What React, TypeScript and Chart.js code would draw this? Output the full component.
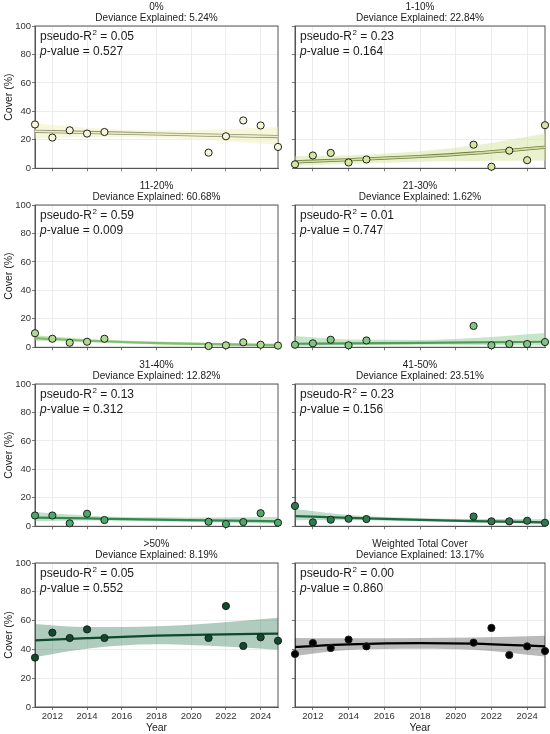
import { useEffect, useRef } from 'react'
import { Chart, registerables } from 'chart.js'

Chart.register(...registerables)

const FONT = '"Liberation Sans", Arial, Helvetica, sans-serif'

// survey years and axis ticks
const years = [2011, 2012, 2013, 2014, 2015, 2021, 2022, 2023, 2024, 2025]
const fitYears = [2011, 2014, 2018, 2021, 2025]
const xTicks = [2012, 2014, 2016, 2018, 2020, 2022, 2024]
const yTicks = [0, 20, 40, 60, 80, 100]

// panel labels and stats
const classes = ['0%', '1-10%', '11-20%', '21-30%', '31-40%', '41-50%', '>50%', 'Weighted Total Cover']
const deviance = ['5.24', '22.84', '60.68', '1.62', '12.82', '23.51', '8.19', '13.17']
const pseudoR2 = ['0.05', '0.23', '0.59', '0.01', '0.13', '0.23', '0.05', '0.00']
const pValues = ['0.527', '0.164', '0.009', '0.747', '0.312', '0.156', '0.552', '0.860']

// observed cover (%) per year
const cover0 = [30.8, 21.6, 26.7, 24.4, 25.5, 11, 22.5, 33.6, 30.1, 15]
const cover1to10 = [2.8, 9, 10.8, 4.1, 6.2, 16.6, 1.1, 12.4, 5.7, 30.3]
const cover11to20 = [9.9, 6, 3.2, 3.9, 6, 0.9, 1.4, 3.5, 1.8, 1.2]
const cover21to30 = [1.8, 2.8, 5.3, 1.4, 4.8, 15, 1.4, 2.3, 2.3, 3.7]
const cover31to40 = [7.6, 7.6, 2.1, 8.8, 4.4, 3.2, 1.6, 3, 9.2, 2.5]
const cover41to50 = [14.3, 2.8, 4.6, 5.3, 5.1, 6.9, 3.5, 3.5, 3.9, 2.5]
const cover50plus = [34.3, 51.6, 47.9, 53.9, 47.9, 47.9, 70.1, 42.4, 48.4, 46]
const coverTotal = [36.8, 44.4, 41, 46.8, 42.1, 44.7, 54.9, 36.1, 42.1, 38.9]

// fitted trend and confidence band, read at fitYears
const fit0 = [26, 25.2, 24.1, 23.3, 22.3]
const lo0 = [21, 22, 21.5, 19.8, 16.5]
const hi0 = [31.5, 28.5, 26.5, 27, 29]
const fit1to10 = [4.5, 6, 8.3, 10.6, 14.7]
const lo1to10 = [1.6, 3.2, 4.6, 5.2, 5.5]
const hi1to10 = [8.5, 9.2, 12, 16, 24.5]
const fit11to20 = [6.5, 4.6, 3, 2.2, 1.4]
const lo11to20 = [4.8, 3.6, 2.2, 1.4, 0.6]
const hi11to20 = [8.4, 5.8, 4, 3.2, 2.6]
const fit21to30 = [2.5, 2.8, 3.1, 3.4, 3.9]
const lo21to30 = [0.8, 1.4, 1.8, 1.6, 1.2]
const hi21to30 = [8, 5.5, 5.2, 6.5, 10]
const fit31to40 = [6.1, 5.5, 4.7, 4.2, 3.5]
const lo31to40 = [3.5, 4, 3.5, 2.8, 1.8]
const hi31to40 = [10, 7.5, 6.3, 6.2, 6.5]
const fit41to50 = [7.2, 5.9, 4.5, 3.7, 2.8]
const lo41to50 = [4.2, 4.3, 3.5, 2.6, 1.5]
const hi41to50 = [12.2, 8, 5.8, 5.1, 5]
const fit50plus = [46.3, 47.8, 49.5, 50.3, 51]
const lo50plus = [34.7, 40.5, 43.5, 42.5, 39.8]
const hi50plus = [57.7, 55.5, 56, 58, 62]
const fitTotal = [41.7, 43.5, 44.4, 44, 42.1]
const loTotal = [35.4, 39.5, 40.5, 39.8, 35]
const hiTotal = [48, 47.8, 48, 48.3, 49.5]

const observed = [cover0, cover1to10, cover11to20, cover21to30, cover31to40, cover41to50, cover50plus, coverTotal]
const fits = [fit0, fit1to10, fit11to20, fit21to30, fit31to40, fit41to50, fit50plus, fitTotal]
const lows = [lo0, lo1to10, lo11to20, lo21to30, lo31to40, lo41to50, lo50plus, loTotal]
const highs = [hi0, hi1to10, hi11to20, hi21to30, hi31to40, hi41to50, hi50plus, hiTotal]

// styles
const pointColors = ['#f6f6da', '#d6e6a2', '#b0da92', '#80c683', '#4ca96c', '#2a7c4e', '#0e4a2c', '#000000']
const lineColors = ['#eeeec6', '#cfe09a', '#7dbf68', '#4f9f5a', '#2f8a52', '#1d6a3e', '#0e4a2c', '#000000']
const outlineColors = ['#8e9272', '#6f7c46', '', '', '', '', '', '']
const bandColors = [
  'rgba(240,240,190,0.55)',
  'rgba(212,228,160,0.5)',
  'rgba(140,200,110,0.5)',
  'rgba(130,200,130,0.45)',
  'rgba(95,180,115,0.4)',
  'rgba(70,155,100,0.35)',
  'rgba(30,110,70,0.35)',
  'rgba(0,0,0,0.27)',
]

const pts = (xs: number[], ys: number[]) => xs.map((x, i) => ({ x, y: ys[i] }))

const decor = {
  id: 'decor',
  beforeDatasetsDraw(chart: any) {
    const { ctx, chartArea: a } = chart
    ctx.save()
    ctx.strokeStyle = '#555'
    ctx.lineWidth = 1
    ctx.strokeRect(a.left, a.top, a.right - a.left, a.bottom - a.top)
    ctx.restore()
  },
  afterDraw(chart: any, _args: any, opts: any) {
    const { ctx, chartArea: a } = chart
    const cx = (a.left + a.right) / 2
    ctx.save()
    ctx.fillStyle = '#1a1a1a'
    ctx.textAlign = 'center'
    ctx.textBaseline = 'middle'
    ctx.font = `10px ${FONT}`
    ctx.fillText(opts.name, cx, a.top - 19)
    ctx.fillText(`Deviance Explained: ${opts.dev}%`, cx, a.top - 8)

    // stats annotation
    ctx.textAlign = 'left'
    let x = a.left + 5
    const y1 = a.top + 11
    const y2 = a.top + 26
    ctx.font = `12px ${FONT}`
    ctx.fillText('pseudo-R', x, y1)
    x += ctx.measureText('pseudo-R').width
    ctx.font = `8px ${FONT}`
    ctx.fillText('2', x + 0.5, y1 - 4)
    x += ctx.measureText('2').width + 0.5
    ctx.font = `12px ${FONT}`
    ctx.fillText(` = ${opts.r2}`, x, y1)
    x = a.left + 5
    ctx.font = `italic 12px ${FONT}`
    ctx.fillText('p', x, y2)
    x += ctx.measureText('p').width
    ctx.font = `12px ${FONT}`
    ctx.fillText(`-value = ${opts.p}`, x, y2)

    if (opts.yTitle) {
      ctx.save()
      ctx.translate(9, (a.top + a.bottom) / 2)
      ctx.rotate(-Math.PI / 2)
      ctx.textAlign = 'center'
      ctx.font = `10.5px ${FONT}`
      ctx.fillText('Cover (%)', 0, 0)
      ctx.restore()
    }
    if (opts.xTitle) {
      ctx.textAlign = 'center'
      ctx.font = `10.5px ${FONT}`
      ctx.fillText('Year', cx, a.bottom + 21)
    }
    ctx.restore()
  },
}

function Panel({ idx }: { idx: number }) {
  const ref = useRef<HTMLCanvasElement>(null)
  const col = idx % 2
  const row = Math.floor(idx / 2)
  const last = row === 3
  const left = col === 0 ? 0 : 283
  const width = col === 0 ? 283 : 267
  const top = last ? 537 : row * 179
  const height = last ? 197 : 175

  useEffect(() => {
    if (!ref.current) return
    const outline = outlineColors[idx]
    const datasets: any[] = [
      {
        type: 'line',
        data: pts(fitYears, lows[idx]),
        borderWidth: 0,
        pointRadius: 0,
        cubicInterpolationMode: 'monotone',
        fill: false,
        order: 5,
      },
      {
        type: 'line',
        data: pts(fitYears, highs[idx]),
        borderWidth: 0,
        pointRadius: 0,
        cubicInterpolationMode: 'monotone',
        backgroundColor: bandColors[idx],
        fill: '-1',
        order: 4,
      },
    ]
    if (outline) {
      datasets.push({
        type: 'line',
        data: pts(fitYears, fits[idx]),
        borderColor: outline,
        borderWidth: 3.2,
        pointRadius: 0,
        cubicInterpolationMode: 'monotone',
        fill: false,
        order: 3,
      })
    }
    datasets.push(
      {
        type: 'line',
        data: pts(fitYears, fits[idx]),
        borderColor: lineColors[idx],
        borderWidth: outline ? 1.6 : 2.2,
        pointRadius: 0,
        cubicInterpolationMode: 'monotone',
        fill: false,
        order: 2,
      },
      {
        type: 'scatter',
        data: pts(years, observed[idx]),
        backgroundColor: pointColors[idx],
        borderColor: '#1e1e1e',
        borderWidth: 1,
        pointRadius: 3.6,
        clip: false,
        order: 0,
      },
    )

    const chart = new Chart(ref.current, {
      type: 'scatter',
      data: { datasets },
      options: {
        responsive: false,
        animation: false,
        layout: { padding: { top: 26, right: 3, left: 0, bottom: 0 } },
        plugins: {
          legend: { display: false },
          tooltip: { enabled: false },
          decor: {
            name: classes[idx],
            dev: deviance[idx],
            r2: pseudoR2[idx],
            p: pValues[idx],
            yTitle: col === 0,
            xTitle: last,
          },
        } as any,
        scales: {
          x: {
            type: 'linear',
            min: 2011,
            max: 2025,
            afterBuildTicks: (s: any) => {
              s.ticks = xTicks.map((v) => ({ value: v }))
            },
            afterFit: (s: any) => {
              s.height = last ? 27 : 4
            },
            grid: { color: '#e9e9e9', lineWidth: 0.8, tickColor: '#555', tickLength: 3 },
            border: { display: true, color: '#555', width: 1 },
            ticks: {
              padding: 1,
              maxRotation: 0,
              autoSkip: false,
              color: '#333',
              font: { family: FONT, size: 9.5 },
              callback: (v: any) => (last ? String(v) : ''),
            },
          },
          y: {
            type: 'linear',
            min: 0,
            max: 100,
            afterBuildTicks: (s: any) => {
              s.ticks = yTicks.map((v) => ({ value: v }))
            },
            afterFit: (s: any) => {
              s.width = col === 0 ? 35 : 12
            },
            grid: { color: '#e9e9e9', lineWidth: 0.8, tickColor: '#555', tickLength: 3 },
            border: { display: true, color: '#555', width: 1 },
            ticks: {
              padding: 1,
              color: '#333',
              font: { family: FONT, size: 9.5 },
              callback: (v: any) => (col === 0 ? String(v) : ''),
            },
          },
        },
      },
      plugins: [decor],
    })
    return () => {
      chart.destroy()
    }
  }, [idx])

  return (
    <div style={{ position: 'absolute', left, top, width, height }}>
      <canvas ref={ref} width={width} height={height} />
    </div>
  )
}

export default function App() {
  return (
    <div style={{ position: 'absolute', left: 0, top: 0, width: 550, height: 734, background: '#fff' }}>
      {classes.map((_, i) => (
        <Panel key={i} idx={i} />
      ))}
    </div>
  )
}
